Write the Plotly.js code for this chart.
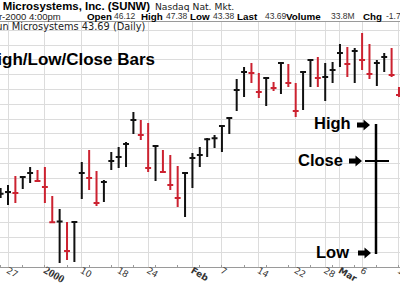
<!DOCTYPE html>
<html><head><meta charset="utf-8">
<script src="https://cdn.plot.ly/plotly-3.0.1.min.js"></script>
<style>html,body{margin:0;padding:0;background:#fff;overflow:hidden}#chart{width:400px;height:284px}</style>
</head><body><div id="chart"></div>
<script>
// ---- data ----
const dates = ['1999-12-24','1999-12-27','1999-12-28','1999-12-29','1999-12-30','1999-12-31',
 '2000-01-03','2000-01-04','2000-01-05','2000-01-06','2000-01-07','2000-01-10','2000-01-11','2000-01-12','2000-01-13','2000-01-14',
 '2000-01-18','2000-01-19','2000-01-20','2000-01-21','2000-01-24','2000-01-25','2000-01-26','2000-01-27','2000-01-28','2000-01-31',
 '2000-02-01','2000-02-02','2000-02-03','2000-02-04','2000-02-07','2000-02-08','2000-02-09','2000-02-10','2000-02-11',
 '2000-02-14','2000-02-15','2000-02-16','2000-02-17','2000-02-18','2000-02-22','2000-02-23','2000-02-24','2000-02-25',
 '2000-02-28','2000-02-29','2000-03-01','2000-03-02','2000-03-03','2000-03-06','2000-03-07','2000-03-08','2000-03-09','2000-03-10','2000-03-13'];
const highs = [32.68,33.08,34.30,34.30,35.51,35.11,35.51,31.59,29.84,28.08,28.08,36.19,37.81,34.97,33.76,37.54,
 38.22,38.89,42.95,41.86,41.46,38.49,37.81,37.14,35.65,34.84,37.41,38.22,39.43,39.84,41.05,42.14,47.41,49.03,49.57,
 48.22,47.68,47.00,49.57,49.43,46.86,48.35,50.11,50.38,49.57,49.70,52.14,51.73,51.59,53.62,52.14,49.97,50.92,51.59,46.32];
const lows = [31.32,30.38,30.65,32.54,33.35,33.49,30.65,27.95,22.54,22.95,22.68,31.19,32.41,30.24,30.78,35.11,
 35.38,35.51,39.97,39.16,34.84,33.62,34.70,32.41,30.11,28.76,32.68,35.51,36.86,38.08,37.54,39.97,43.08,44.97,46.86,
 44.84,43.76,45.78,45.38,46.32,42.27,43.22,46.32,46.32,44.43,46.86,49.03,47.68,46.86,48.62,47.41,46.46,48.35,47.68,44.97];
const closes = [31.90,32.15,32.00,34.16,34.70,33.62,32.81,28.05,28.15,24.16,28.08,34.70,34.03,30.65,33.49,36.32,
 36.86,38.62,41.86,39.84,35.38,38.35,34.84,33.08,31.32,34.70,36.73,37.14,39.25,39.40,41.05,42.14,45.92,48.35,48.22,
 45.65,47.54,46.19,49.57,46.86,43.08,48.35,49.97,47.54,47.68,48.62,50.92,49.43,51.19,49.97,48.08,49.57,50.38,47.95,45.24];
const tickDates = ['1999-12-27','2000-01-03','2000-01-10','2000-01-18','2000-01-24','2000-02-01','2000-02-07',
 '2000-02-14','2000-02-22','2000-02-28','2000-03-01','2000-03-06','2000-03-13'];
const tickLabels = ['27','<b><span style="font-family:Liberation Serif,serif;font-size:11px">2000</span></b>','10','18','24','<b>Feb</b>','7','14','22','28','<b>Mar</b>','6','13'];
const gridPrices = [24,26,28,30,32,34,36,38,40,42,44,46,48,50,52,54];

// ---- geometry helpers ----
const W=400,H=284,ML=0,MR=0,MT=22,MB=17;
const PW=W-ML-MR, PH=H-MT-MB;
const px=x=>(x-ML)/PW, py=y=>(H-MB-y)/PH;

const BLACK='#111111', RED='#cc2230';
function subset(up){
  const o={x:[],h:[],l:[],c:[]};
  dates.forEach((d,i)=>{
    const isUp = i===0 ? true : closes[i] >= closes[i-1];
    if(isUp===up){o.x.push(d);o.h.push(highs[i]);o.l.push(lows[i]);o.c.push(closes[i]);}
  });
  return o;
}
function trace(up){
  const s=subset(up), col= up?BLACK:RED;
  return {type:'ohlc', x:s.x, open:s.c, high:s.h, low:s.l, close:s.c,
    increasing:{line:{color:col,width:2}}, decreasing:{line:{color:col,width:2}},
    tickwidth:0.4, hoverinfo:'skip', showlegend:false};
}

const ann=[];
function txt(t,x,y,opt){
  ann.push(Object.assign({text:t,xref:'paper',yref:'paper',x:px(x),y:py(y),xanchor:'left',yanchor:'middle',
    showarrow:false,borderpad:0,font:{family:'Liberation Sans, Arial',size:10,color:'#000'}},opt||{}));
}
const NUM={family:'Liberation Sans, Arial',size:8.5,color:'#333'};
const LAB={family:'Liberation Sans, Arial',size:9.8,color:'#000'};
txt('<b>Sun Microsystems, Inc. (SUNW)</b>',-23.5,6,{font:{family:'Liberation Sans, Arial',size:11.4,color:'#000'}});
txt('Nasdaq Nat. Mkt.',154,7,{font:{family:'DejaVu Sans, Verdana',size:9.2,color:'#222'}});
txt('13-Mar-2000 4:00pm',62,16.5,{xanchor:'right',font:{family:'Liberation Sans, Arial',size:9.5,color:'#222'}});
txt('<b>Open</b>',86,16.5,{font:LAB}); txt('46.12',113,16.5,{font:NUM});
txt('<b>High</b>',140,16.5,{font:LAB}); txt('47.38',165,16.5,{font:NUM});
txt('<b>Low</b>',189,16.5,{font:LAB}); txt('43.38',212,16.5,{font:NUM});
txt('<b>Last</b>',236,16.5,{font:LAB}); txt('43.69',264,16.5,{font:NUM});
txt('<b>Volume</b>',285,16.5,{font:LAB}); txt('33.8M',330,16.5,{font:NUM});
txt('<b>Chg</b>',362,16.5,{font:LAB}); txt('-1.7',385,16.5,{font:NUM});
txt('Sun Microsystems 43.69 (Daily)',-11.5,26.5,{font:{family:'DejaVu Sans, Verdana',size:9.8,color:'#222'}});
txt('<b>High/Low/Close Bars</b>',-16,60,{font:{family:'Liberation Sans, Arial',size:17,color:'#000'}});
const LEG={family:'Liberation Sans, Arial',size:16.5,color:'#000'};
txt('<b>High</b>',313,123,{font:LEG});
txt('<b>Close</b>',297,159.5,{font:LEG});
txt('<b>Low</b>',315,252,{font:LEG});

const shapes=[];
function seg(x0,y0,x1,y1,w){shapes.push({type:'line',xref:'paper',yref:'paper',x0:px(x0),y0:py(y0),x1:px(x1),y1:py(y1),line:{color:'#000',width:w},layer:'above'});}
function arrow(x0,x1,cy){
  const xm=x0+6.5;
  const pts=[[x0,cy-2.6],[xm,cy-2.6],[xm,cy-5.5],[x1,cy],[xm,cy+5.5],[xm,cy+2.6],[x0,cy+2.6]];
  const p='M'+pts.map(q=>px(q[0])+','+py(q[1])).join(' L')+' Z';
  shapes.push({type:'path',xref:'paper',yref:'paper',path:p,fillcolor:'#000',line:{width:0},layer:'above'});
}
seg(376,124,376,254,2.5);
seg(365,161,389,161,2);
arrow(357,370,125);
arrow(349,362,161);
arrow(358,371,253);

// x range: Dec-27 (index 1) at pixel 8, 7.377 px per trading day
const step=7.377, x0idx=1-(8-ML)/step, x1idx=x0idx+PW/step;

const layout={width:W,height:H,margin:{l:ML,r:MR,t:MT,b:MB,pad:0},
  paper_bgcolor:'#fff',plot_bgcolor:'#fff',showlegend:false,
  xaxis:{type:'category',categoryorder:'array',categoryarray:dates,range:[x0idx,x1idx],
    tickmode:'array',tickvals:tickDates,ticktext:tickLabels,showgrid:true,gridcolor:'#dcdcdc',gridwidth:1,
    showline:true,linecolor:'#9a9a9a',linewidth:1,mirror:true,ticks:'',ticklabelstandoff:-6,
    tickfont:{family:'DejaVu Sans, Verdana',size:9,color:'#333'},rangeslider:{visible:false},fixedrange:true,
    minor:{ticks:'inside',ticklen:2,tickcolor:'#9a9a9a',showgrid:false}},
  yaxis:{range:[22,22+PH/7.4],tickmode:'array',tickvals:gridPrices,showticklabels:false,
    showgrid:true,gridcolor:'#dcdcdc',gridwidth:1,zeroline:false,ticks:'',showline:false,fixedrange:true},
  annotations:ann,shapes:shapes};

Plotly.newPlot('chart',[trace(true),trace(false)],layout,{staticPlot:true,displayModeBar:false});
</script></body></html>
